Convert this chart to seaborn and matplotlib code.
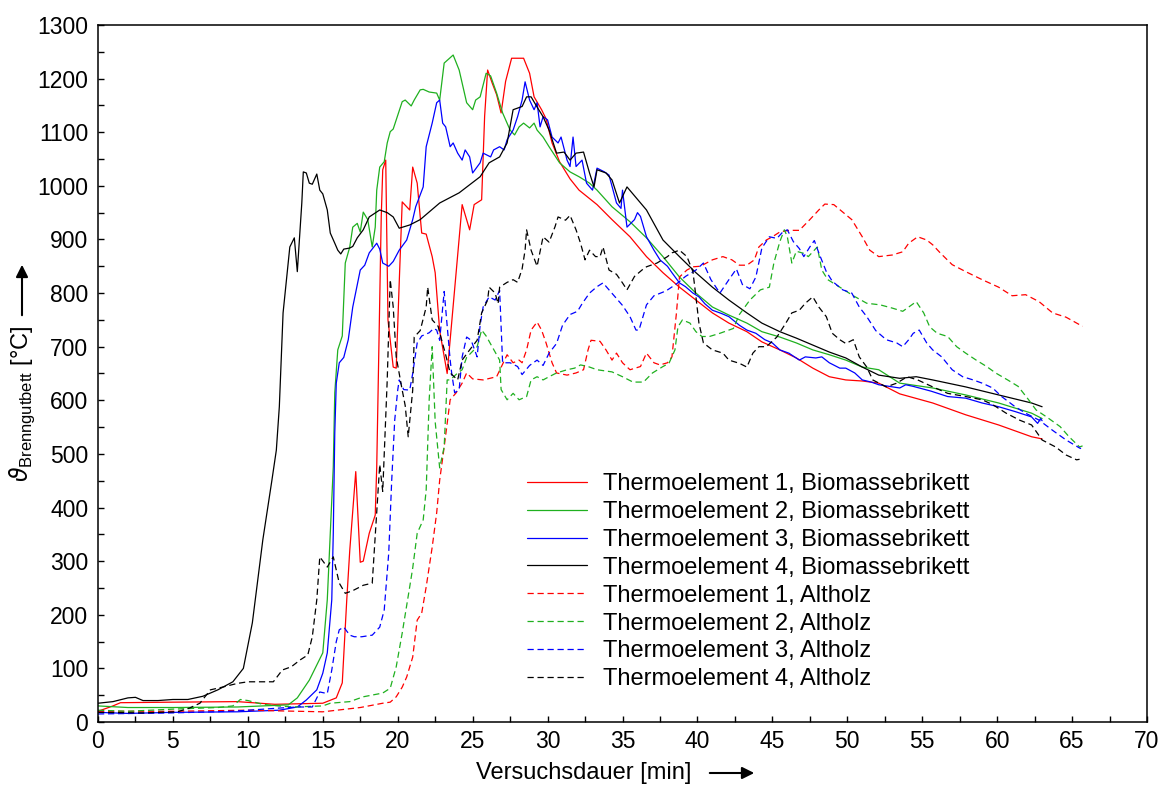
import matplotlib
matplotlib.use("Agg")
import matplotlib.pyplot as plt
from matplotlib.ticker import MultipleLocator
import seaborn as sns

# ---------------- data ----------------
labels = ["Thermoelement 1, Biomassebrikett", "Thermoelement 2, Biomassebrikett",
          "Thermoelement 3, Biomassebrikett", "Thermoelement 4, Biomassebrikett",
          "Thermoelement 1, Altholz", "Thermoelement 2, Altholz",
          "Thermoelement 3, Altholz", "Thermoelement 4, Altholz"]

bio1_x = [0, 1, 1.5, 5, 9.3, 11.8, 15.0, 15.9, 16.3, 16.6, 16.8, 17.2, 17.5, 17.7, 18.1, 18.5, 18.6, 18.8,
          18.9, 19.0, 19.2, 19.35, 19.7, 19.9, 20.1, 20.3, 20.8, 21.0, 21.3, 21.6, 21.9, 22.3, 22.5, 22.8, 23.3,
          24.3, 24.8, 25.1, 25.6, 25.8, 26.0, 26.3, 26.6, 26.9, 27.2, 27.6, 28.4, 28.8, 29.1, 29.6, 29.9, 30.3,
          30.8, 31.5, 32.1, 33.3, 34.3, 35.5, 36.6, 37.7, 38.8, 39.9, 41.0, 42.1, 43.3, 44.3, 45.5, 46.6, 47.7,
          48.8, 49.9, 51.0, 52.1, 53.5, 55.7, 57.9, 60.1, 62.3, 63.0]
bio1_y = [20, 30, 36, 37, 38, 33, 35, 45, 73, 228, 320, 467, 298, 300, 352, 386, 476, 787,
          942, 1030, 1048, 750, 662, 660, 819, 970, 955, 1035, 1005, 912, 910, 868, 838, 730, 650,
          965, 918, 965, 974, 1130, 1216, 1192, 1170, 1136, 1195, 1238, 1238, 1210, 1166, 1142, 1125, 1080,
          1045, 1013, 992, 965, 937, 905, 868, 838, 811, 787, 763, 744, 728, 709, 694, 679, 660,
          644, 638, 636, 632, 612, 595, 573, 554, 532, 528]

bio2_x = [0, 2, 5, 9.3, 12.7, 13.3, 14.1, 15.0, 15.3, 15.7, 15.8, 16.0, 16.3, 16.5, 16.8, 17.0, 17.3, 17.5,
          17.7, 18.0, 18.3, 18.5, 18.6, 18.8, 19.1, 19.3, 19.5, 19.7, 19.9, 20.3, 20.5, 20.9, 21.1, 21.5, 21.7,
          22.1, 22.6, 22.8, 23.1, 23.7, 24.1, 24.6, 25.0, 25.2, 25.5, 25.9, 26.2, 26.6, 27.0, 27.5, 27.8, 28.1,
          28.4, 28.8, 29.1, 29.3, 29.7, 30.1, 30.8, 31.5, 32.1, 32.8, 33.3, 34.3, 35.5, 36.6, 37.7, 38.8, 39.9,
          41.0, 42.1, 43.3, 44.3, 45.5, 46.6, 47.7, 48.8, 49.9, 51.0, 52.1, 53.5, 55.7, 57.9, 60.1, 62.3, 63.0]
bio2_y = [30, 27, 27, 28, 32, 45, 78, 129, 228, 476, 614, 694, 720, 856, 886, 923, 930, 914,
          951, 937, 886, 923, 992, 1035, 1045, 1080, 1101, 1106, 1123, 1157, 1160, 1149, 1160, 1179, 1180,
          1175, 1173, 1160, 1229, 1244, 1216, 1155, 1142, 1160, 1166, 1210, 1205, 1173, 1136, 1104, 1095, 1110,
          1117, 1108, 1117, 1104, 1091, 1073, 1043, 1026, 1017, 1005, 992, 961, 933, 903, 868, 830, 800,
          774, 759, 744, 728, 718, 707, 694, 685, 675, 662, 657, 632, 623, 610, 595, 576, 566]

bio3_x = [0, 2, 5, 9.3, 12.1, 13.3, 13.9, 14.6, 15.0, 15.3, 15.6, 15.7, 15.8, 15.9, 16.1, 16.4, 16.7, 17.0,
          17.5, 17.8, 18.1, 18.6, 18.8, 19.0, 19.4, 19.7, 20.1, 20.6, 21.0, 21.2, 21.7, 21.9, 22.3, 22.6, 22.8,
          23.0, 23.2, 23.5, 23.7, 24.0, 24.3, 24.5, 24.8, 25.0, 25.5, 25.7, 26.2, 26.4, 26.8, 27.1, 27.3, 27.7,
          28.0, 28.3, 28.5, 28.8, 29.1, 29.3, 29.5, 29.7, 30.0, 30.3, 30.7, 30.9, 31.3, 31.5, 31.7, 31.9, 32.3,
          32.6, 33.0, 33.3, 33.8, 34.1, 34.6, 34.9, 35.0, 35.3, 35.8, 36.0, 36.2, 36.6, 37.1, 37.5, 38.0, 38.3,
          38.8, 39.2, 39.7, 40.1, 40.5, 41.0, 41.6, 42.1, 42.8, 43.3, 43.9, 44.5, 45.0, 45.5, 46.1, 46.8, 47.2,
          47.9, 48.3, 48.8, 49.5, 49.9, 50.5, 51.0, 51.6, 52.1, 53.5, 53.9, 54.4, 55.6, 56.7, 57.9, 59.0, 60.1,
          61.2, 62.3, 62.7, 62.9, 63.0]
bio3_y = [18, 16, 18, 19, 22, 28, 41, 60, 91, 129, 228, 352, 539, 632, 670, 680, 713, 774,
          843, 852, 875, 893, 882, 856, 850, 859, 880, 899, 937, 961, 998, 1073, 1117, 1155, 1160,
          1117, 1110, 1073, 1080, 1061, 1048, 1067, 1054, 1024, 1043, 1061, 1054, 1067, 1073, 1067, 1086, 1104,
          1129, 1160, 1194, 1160, 1142, 1155, 1110, 1129, 1123, 1091, 1080, 1091, 1048, 1036, 1091, 1036, 1048,
          1005, 992, 1033, 1026, 1020, 968, 958, 992, 923, 937, 950, 943, 905, 880, 862, 850, 838,
          819, 812, 800, 793, 780, 768, 762, 756, 740, 731, 725, 713, 707, 694, 688, 675, 681,
          679, 681, 670, 660, 660, 651, 638, 634, 629, 623, 629, 626, 617, 607, 604, 595, 588,
          579, 569, 557, 566, 562]

bio4_x = [0, 1, 2, 2.5, 3, 4, 5, 6, 7, 8, 9, 9.7, 10.3, 11.0, 11.6, 11.9, 12.1, 12.35, 12.8, 13.1, 13.3,
          13.6, 13.7, 13.9, 14.1, 14.3, 14.6, 14.8, 15.0, 15.3, 15.5, 15.8, 16.0, 16.2, 16.4, 16.8, 17.0, 17.3,
          17.7, 18.1, 18.8, 19.3, 19.7, 20.1, 20.8, 21.5, 22.8, 24.1, 25.5, 26.1, 26.8, 27.3, 27.7, 28.3, 28.6,
          28.9, 29.3, 29.7, 30.1, 30.6, 31.1, 31.5, 31.9, 32.4, 32.8, 33.1, 33.3, 33.9, 34.3, 34.8, 35.3, 36.6,
          37.7, 38.8, 39.9, 41.0, 42.1, 43.3, 44.3, 45.5, 46.6, 47.7, 48.8, 49.9, 51.0, 52.1, 53.5, 54.6, 55.7,
          57.9, 60.1, 62.3, 63.0]
bio4_y = [35, 38, 45, 46, 40, 40, 42, 42, 48, 60, 75, 100, 185, 340, 450, 507, 588, 763, 886, 903, 840,
          968, 1026, 1024, 1005, 1003, 1022, 992, 985, 955, 912, 893, 880, 873, 882, 884, 887, 903,
          918, 942, 955, 950, 942, 921, 927, 937, 968, 987, 1017, 1043, 1054, 1080, 1142, 1148, 1166,
          1166, 1147, 1129, 1104, 1061, 1063, 1048, 1061, 1063, 1024, 998, 1030, 1024, 1011, 968, 998, 955,
          899, 868, 838, 811, 787, 763, 744, 728, 716, 703, 690, 679, 662, 647, 641, 644, 638,
          625, 610, 595, 588]

alt1_x = [0, 5, 10, 15, 17.5, 19.0, 19.5, 19.9, 20.3, 20.6, 21.0, 21.3, 21.6, 21.9, 22.3, 22.6, 22.8, 23.1,
          23.5, 23.9, 24.3, 24.6, 25.0, 25.7, 26.6, 27.3, 27.7, 28.1, 28.3, 28.6, 28.9, 29.3, 29.6, 29.9, 30.3,
          30.6, 31.3, 31.9, 32.4, 32.7, 32.9, 33.5, 33.9, 34.3, 34.6, 35.0, 35.5, 36.2, 36.6, 37.1, 37.5, 38.0,
          38.3, 38.6, 38.8, 39.3, 39.7, 40.2, 41.0, 41.7, 42.3, 42.8, 43.3, 43.8, 44.1, 44.6, 45.0, 45.5, 46.1,
          46.8, 47.5, 48.1, 48.5, 49.1, 49.7, 50.3, 51.0, 51.5, 52.1, 53.0, 53.7, 54.1, 54.7, 55.3, 55.7, 56.2,
          57.0, 57.9, 59.0, 60.1, 61.0, 61.9, 62.8, 63.7, 64.6, 65.5, 65.7]
alt1_y = [20, 20, 22, 19, 27, 35, 37, 47, 65, 84, 121, 190, 203, 252, 326, 390, 451, 513,
          601, 614, 632, 651, 640, 638, 644, 685, 670, 675, 670, 694, 731, 746, 731, 707, 670,
          651, 647, 651, 657, 694, 712, 710, 694, 675, 688, 670, 657, 663, 688, 670, 666, 670,
          681, 763, 830, 843, 849, 850, 862, 868, 862, 852, 852, 862, 886, 899, 905, 914, 917,
          917, 937, 955, 966, 965, 951, 937, 905, 880, 868, 871, 877, 893, 905, 899, 890, 875,
          853, 840, 825, 811, 795, 797, 784, 763, 755, 741, 738]

alt2_x = [0, 2, 5, 8, 9.0, 9.5, 10, 11, 12, 13, 15, 15.5, 16.8, 17.7, 19.0, 19.5, 19.9, 20.3, 20.8, 21.0,
          21.3, 21.7, 21.9, 22.1, 22.3, 22.5, 22.8, 23.1, 23.3, 23.5, 24.0, 24.3, 24.6, 25.3, 25.6, 25.9, 26.3,
          26.8, 26.9, 27.3, 27.7, 28.1, 28.6, 28.9, 29.3, 29.7, 30.1, 30.6, 31.3, 31.8, 32.2, 32.7, 33.3, 34.3,
          35.0, 35.7, 36.4, 37.0, 37.7, 38.1, 38.5, 38.7, 39.0, 39.5, 39.9, 40.3, 40.8, 41.5, 42.4, 42.8, 43.5,
          44.2, 44.8, 45.1, 45.5, 45.8, 46.0, 46.3, 46.6, 47.1, 47.4, 47.8, 48.0, 48.3, 48.7, 49.5, 50.4, 51.3,
          52.2, 53.0, 53.7, 54.1, 54.6, 55.1, 55.5, 56.0, 56.7, 57.3, 57.9, 58.6, 59.3, 59.9, 60.7, 61.4, 62.1,
          62.6, 63.3, 64.2, 64.8, 65.5, 65.7]
alt2_y = [22, 20, 24, 27, 30, 42, 40, 33, 30, 28, 30, 35, 38, 47, 54, 63, 103, 166, 252, 287,
          352, 377, 433, 601, 700, 560, 474, 513, 638, 638, 651, 657, 680, 700, 731, 720, 700,
          675, 620, 601, 613, 601, 607, 638, 644, 638, 644, 651, 657, 660, 666, 663, 657, 653,
          644, 634, 634, 651, 663, 669, 694, 737, 750, 744, 728, 719, 719, 725, 734, 760, 787,
          806, 811, 856, 896, 918, 905, 856, 878, 874, 868, 880, 886, 843, 825, 811, 795, 781,
          778, 772, 766, 774, 784, 763, 737, 725, 719, 700, 688, 675, 663, 651, 638, 626, 601,
          582, 569, 551, 532, 513, 515]

alt3_x = [0, 5, 9, 12.1, 13.3, 14.3, 14.8, 15.3, 15.6, 15.9, 16.1, 16.4, 16.8, 17.1, 17.6, 18.3, 18.8, 19.1,
          19.4, 19.6, 19.8, 20.0, 20.1, 20.4, 20.8, 21.0, 21.3, 21.6, 22.1, 22.4, 22.6, 22.8, 23.1, 23.5, 23.6,
          23.8, 24.1, 24.3, 24.6, 24.9, 25.3, 25.5, 25.7, 26.1, 26.5, 26.8, 27.0, 27.5, 28.0, 28.3, 28.8, 29.3,
          29.7, 30.1, 30.6, 31.0, 31.5, 32.0, 32.3, 32.8, 33.3, 33.7, 34.1, 35.0, 35.5, 35.9, 36.1, 36.6, 37.1,
          37.9, 38.6, 39.2, 39.9, 40.4, 40.9, 41.5, 42.1, 42.6, 43.0, 43.5, 43.9, 44.3, 44.8, 45.3, 45.7, 46.0,
          46.4, 46.8, 47.1, 47.5, 47.8, 48.1, 48.6, 49.0, 49.7, 50.3, 50.8, 51.3, 51.9, 52.6, 53.3, 53.7, 54.1,
          54.4, 54.8, 55.3, 55.7, 56.3, 57.0, 57.7, 58.4, 59.0, 59.7, 60.3, 61.2, 61.9, 62.8, 63.7, 64.6, 65.5,
          65.6]
alt3_y = [15, 17, 20, 26, 28, 28, 56, 53, 97, 150, 172, 177, 162, 159, 159, 162, 177, 209,
          315, 451, 563, 619, 638, 620, 619, 650, 707, 720, 726, 734, 731, 712, 803, 675, 651,
          614, 620, 681, 718, 712, 681, 740, 774, 793, 787, 805, 670, 670, 663, 648, 665, 675,
          665, 688, 706, 740, 760, 766, 780, 800, 812, 819, 806, 777, 756, 731, 731, 778, 795,
          804, 817, 831, 843, 856, 825, 800, 825, 845, 816, 808, 830, 884, 905, 902, 914, 918,
          896, 883, 868, 886, 898, 875, 840, 822, 806, 800, 774, 756, 730, 713, 707, 700, 713,
          725, 731, 707, 694, 681, 657, 644, 638, 632, 623, 607, 588, 576, 563, 544, 526, 511,
          510]

alt4_x = [0, 3, 5.3, 6.1, 6.8, 7.5, 8.3, 9.3, 10.0, 11.0, 11.7, 12.3, 12.9, 13.5, 14.0, 14.3, 14.6, 14.8,
          15.3, 15.7, 16.1, 16.5, 17.0, 17.7, 18.3, 18.6, 18.8, 19.0, 19.3, 19.5, 19.7, 19.9, 20.3, 20.5, 20.7,
          21.0, 21.1, 21.5, 21.9, 22.0, 22.3, 22.7, 22.8, 23.2, 23.5, 24.0, 24.3, 24.8, 25.3, 25.6, 26.0, 26.1,
          26.5, 26.7, 26.8, 27.3, 27.7, 28.0, 28.3, 28.5, 28.6, 28.9, 29.3, 29.5, 29.7, 30.1, 30.5, 30.7, 31.2,
          31.5, 31.9, 32.2, 32.5, 32.8, 33.2, 33.5, 33.7, 34.1, 34.6, 35.0, 35.3, 35.8, 36.3, 36.6, 37.3, 38.0,
          38.3, 38.8, 39.3, 39.7, 39.9, 40.1, 40.4, 41.0, 41.7, 42.1, 42.8, 43.3, 43.7, 44.1, 44.6, 45.3, 45.9,
          46.3, 46.8, 47.2, 47.7, 48.1, 48.6, 49.0, 49.5, 49.9, 50.4, 50.8, 51.3, 51.7, 52.6, 53.3, 54.0, 54.7,
          55.7, 56.7, 57.9, 59.0, 59.7, 60.6, 61.5, 62.3, 63.0, 63.9, 64.6, 65.3, 65.5]
alt4_y = [18, 17, 19, 26, 35, 60, 65, 72, 75, 75, 75, 97, 103, 116, 125, 159, 228, 308,
          289, 308, 259, 240, 245, 255, 259, 390, 480, 430, 638, 825, 774, 681, 619, 590, 532,
          619, 718, 730, 774, 811, 750, 738, 726, 685, 651, 638, 675, 694, 712, 763, 787, 811,
          800, 780, 811, 820, 825, 820, 845, 880, 918, 880, 850, 877, 905, 895, 924, 942, 936,
          945, 918, 893, 862, 880, 868, 868, 886, 843, 835, 819, 806, 831, 843, 849, 856, 868,
          875, 880, 868, 840, 793, 744, 707, 694, 688, 675, 669, 662, 688, 700, 700, 718, 744,
          763, 768, 781, 793, 774, 756, 725, 713, 706, 713, 681, 662, 638, 625, 632, 644, 638,
          625, 613, 607, 601, 592, 576, 563, 554, 526, 513, 498, 489, 490]

series_x = [bio1_x, bio2_x, bio3_x, bio4_x, alt1_x, alt2_x, alt3_x, alt4_x]
series_y = [bio1_y, bio2_y, bio3_y, bio4_y, alt1_y, alt2_y, alt3_y, alt4_y]
colors = ["#ff0000", "#1fb01f", "#0000ff", "#000000", "#ff0000", "#1fb01f", "#0000ff", "#000000"]
dashed = [False, False, False, False, True, True, True, True]

x_ticks = list(range(0, 71, 5))
y_ticks = list(range(0, 1301, 100))

# ---------------- figure ----------------
sns.set_style("ticks")
plt.rcParams["font.family"] = ["Liberation Sans", "DejaVu Sans"]
plt.rcParams["mathtext.fontset"] = "dejavusans"
for key in ["text.color", "axes.labelcolor", "xtick.color", "ytick.color", "axes.edgecolor"]:
    plt.rcParams[key] = "black"

W, H = 1166, 785
fig = plt.figure(figsize=(W / 100, H / 100), dpi=100)
ax = fig.add_axes([98 / W, 1 - 722 / H, (1147 - 98) / W, (722 - 25) / H])

for xs, ys, c, d, lab in zip(series_x, series_y, colors, dashed, labels):
    ls = (0, (5, 3)) if d else "-"
    sns.lineplot(x=xs, y=ys, ax=ax, color=c, linestyle=ls, linewidth=0.9,
                 label=lab, sort=False, estimator=None)

ax.set_xlim(0, 70)
ax.set_ylim(0, 1300)
ax.set_xticks(x_ticks)
ax.set_yticks(y_ticks)
ax.xaxis.set_minor_locator(MultipleLocator(2.5))
ax.yaxis.set_minor_locator(MultipleLocator(50))
ax.tick_params(which="both", direction="in", length=4.3, width=1.0,
               top=False, right=False, labelsize=16.5, color="black", labelcolor="black")
ax.tick_params(axis="y", pad=7)
ax.tick_params(axis="x", pad=6)
for s in ax.spines.values():
    s.set_visible(True)
    s.set_linewidth(1.1)
    s.set_color("black")
ax.set_xlabel("")
ax.set_ylabel("")

leg = ax.legend(loc="upper left", bbox_to_anchor=(527 / W, 1 - 473 / H),
                bbox_transform=fig.transFigure, frameon=False, fontsize=17,
                handlelength=2.55, handletextpad=0.68, labelspacing=0.25,
                borderpad=0, borderaxespad=0)
for t in leg.get_texts():
    t.set_color("black")

# axis labels with arrows
fig.text(584 / W, 1 - 773 / H, "Versuchsdauer [min]", ha="center", va="center", fontsize=17)
fig.text(22 / W, 1 - 404 / H, r"$\vartheta_{\mathregular{Brenngutbett}}$ [°C]",
         ha="center", va="center", rotation=90, fontsize=17)
ax.annotate("", xy=(757 / W, 1 - 773 / H), xytext=(707 / W, 1 - 773 / H),
            xycoords="figure fraction", textcoords="figure fraction",
            arrowprops=dict(arrowstyle="-|>", color="black", lw=1.5, mutation_scale=18),
            annotation_clip=False)
ax.annotate("", xy=(22 / W, 1 - 262 / H), xytext=(22 / W, 1 - 318 / H),
            xycoords="figure fraction", textcoords="figure fraction",
            arrowprops=dict(arrowstyle="-|>", color="black", lw=1.5, mutation_scale=18),
            annotation_clip=False)

fig.savefig("out.png", dpi=100)
